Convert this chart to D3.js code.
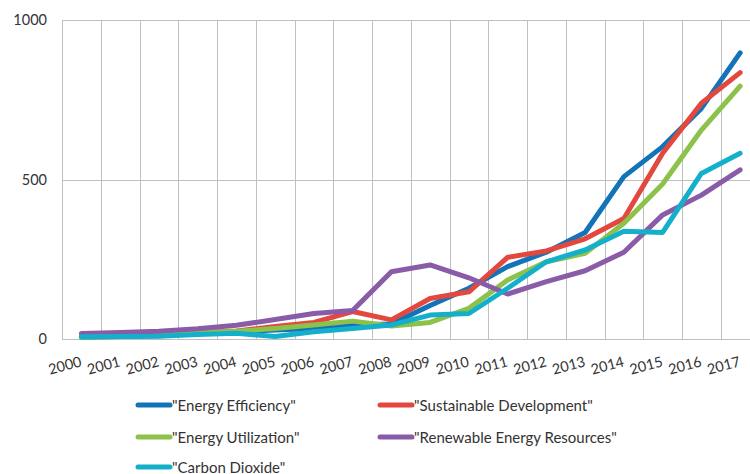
<!DOCTYPE html>
<html>
<head>
<meta charset="utf-8">
<script src="https://cdn.jsdelivr.net/npm/d3@7"></script>
<style>
  html, body { margin: 0; padding: 0; background: #fff; }
  svg { display: block; font-family: Lato, "Open Sans", sans-serif; }
</style>
</head>
<body>
<svg id="chart" width="750" height="474"></svg>
<script>
const years = ["2000","2001","2002","2003","2004","2005","2006","2007","2008","2009","2010","2011","2012","2013","2014","2015","2016","2017"];
const yTicks = [0, 500, 1000];

const energyEfficiency        = [6, 8, 10, 17, 22, 28, 33, 44, 47, 105, 159, 227, 272, 334, 509, 603, 723, 897];
const sustainableDevelopment  = [8, 10, 14, 20, 25, 39, 52, 86, 60, 127, 148, 256, 276, 314, 378, 582, 739, 835];
const energyUtilization       = [6, 8, 12, 20, 24, 33, 44, 56, 41, 52, 96, 185, 242, 269, 363, 486, 655, 793];
const renewableEnergy         = [17, 20, 24, 32, 43, 61, 80, 89, 211, 232, 192, 141, 180, 214, 272, 389, 451, 530];
const carbonDioxide           = [7, 8, 9, 14, 18, 8, 23, 33, 44, 75, 80, 159, 242, 279, 338, 334, 519, 582];

const seriesNames  = ['"Energy Efficiency"', '"Sustainable Development"', '"Energy Utilization"', '"Renewable Energy Resources"', '"Carbon Dioxide"'];
const seriesValues = [energyEfficiency, sustainableDevelopment, energyUtilization, renewableEnergy, carbonDioxide];
const seriesColors = ["#1273B9", "#E2483D", "#8CC14A", "#8A5CA7", "#14B0CB"];

(function () {
const svg = d3.select("#chart");
const plotLeft = 62, plotTop = 20, plotBottom = 339, bandW = 38.75;
const x = d3.scaleBand().domain(years).range([plotLeft, plotLeft + bandW * years.length]).paddingInner(0).paddingOuter(0);
const y = d3.scaleLinear().domain([0, 1000]).range([plotBottom, plotTop]);
const grid = "#BFBFBF";
const textColor = "#333333";

svg.append("defs").append("clipPath").attr("id", "clip")
  .append("rect").attr("x", 0).attr("y", 0).attr("width", 750).attr("height", 474);

const g = svg.append("g").attr("clip-path", "url(#clip)");

// horizontal gridlines
g.selectAll("line.h").data(yTicks).join("line")
  .attr("class", "h")
  .attr("x1", plotLeft).attr("x2", x.range()[1])
  .attr("y1", d => Math.round(y(d)) + 0.5).attr("y2", d => Math.round(y(d)) + 0.5)
  .attr("stroke", grid).attr("stroke-width", 1);

// vertical gridlines at band boundaries
g.selectAll("line.v").data(years).join("line")
  .attr("class", "v")
  .attr("x1", d => Math.round(x(d)) + 0.5).attr("x2", d => Math.round(x(d)) + 0.5)
  .attr("y1", y(1000)).attr("y2", y(0))
  .attr("stroke", grid).attr("stroke-width", 1);

// y labels
svg.selectAll("text.ylab").data(yTicks).join("text")
  .attr("class", "ylab")
  .attr("x", 47).attr("y", d => y(d) + 5)
  .attr("text-anchor", "end").attr("font-size", 14.5).attr("fill", textColor)
  .text(d => d);

// x labels
svg.selectAll("text.xlab").data(years).join("text")
  .attr("class", "xlab")
  .attr("transform", d => `translate(${x(d) + x.bandwidth() / 2 + 1},366) rotate(-15)`)
  .attr("text-anchor", "end").attr("font-size", 14.5).attr("fill", textColor)
  .text(d => d);

// lines
const line = d3.line()
  .x((d, i) => x(years[i]) + x.bandwidth() / 2)
  .y(d => y(d));

g.selectAll("path.series").data(seriesValues).join("path")
  .attr("class", "series")
  .attr("d", d => line(d))
  .attr("fill", "none")
  .attr("stroke", (d, i) => seriesColors[i])
  .attr("stroke-width", 5)
  .attr("stroke-linejoin", "round")
  .attr("stroke-linecap", "round");

// legend
const legendPos = [[136, 405], [378, 405], [136, 437], [378, 437], [136, 467]];
const lg = svg.selectAll("g.leg").data(seriesNames).join("g")
  .attr("class", "leg")
  .attr("transform", (d, i) => `translate(${legendPos[i][0]},${legendPos[i][1]})`);
lg.append("line").attr("x1", 2).attr("x2", 34).attr("y1", 0).attr("y2", 0)
  .attr("stroke", (d, i) => seriesColors[i]).attr("stroke-width", 5).attr("stroke-linecap", "round");
lg.append("text").attr("x", 36).attr("y", 5.5).attr("font-size", 15).attr("fill", textColor)
  .text(d => d);
})();
</script>
</body>
</html>
